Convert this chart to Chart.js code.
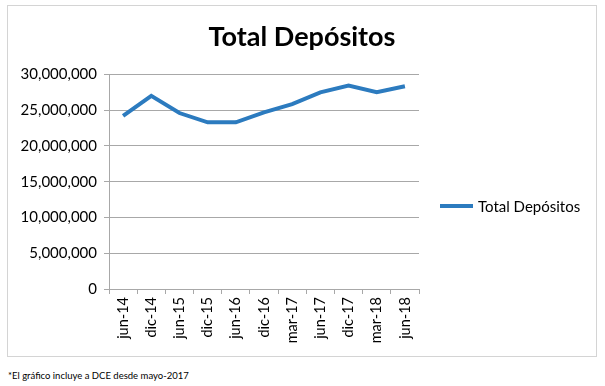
<!DOCTYPE html>
<html>
<head>
<meta charset="utf-8">
<script src="https://cdn.jsdelivr.net/npm/chart.js"></script>
<style>
body { margin: 0; width: 605px; height: 386px; background: #fff; font-family: Lato, sans-serif; position: relative; }
#box { position: absolute; left: 7px; top: 5px; width: 590px; height: 352px; border: 1px solid #d4d4d4; box-sizing: border-box; }
#wrap { position: relative; width: 588px; height: 350px; }
#legend { position: absolute; left: 440px; top: 197px; font-size: 15px; color: #000; display: flex; align-items: center; }
#legend .swatch { display: inline-block; width: 33px; height: 4px; background: #2c7bbf; margin-right: 5px; }
#note { position: absolute; left: 8px; top: 370px; font-size: 9.5px; color: #000; }
</style>
</head>
<body>
<div id="box"><div id="wrap"><canvas id="depChart"></canvas></div></div>
<div id="legend"><span class="swatch"></span>Total Depósitos</div>
<div id="note">*El gráfico incluye a DCE desde mayo-2017</div>
<script>
// data
var months = ['jun-14', 'dic-14', 'jun-15', 'dic-15', 'jun-16', 'dic-16', 'mar-17', 'jun-17', 'dic-17', 'mar-18', 'jun-18'];
var depositos = [24200000, 27000000, 24600000, 23300000, 23300000, 24700000, 25850000, 27500000, 28450000, 27500000, 28350000];
var yMin = 0, yMax = 30000000, yStep = 5000000;

var gridGray = '#a8a8a8';
var blue = '#2c7bbf';

var ctx = document.getElementById('depChart').getContext('2d');
var chart = new Chart(ctx, {
    type: 'line',
    data: {
        labels: months,
        datasets: [{
            label: 'Total Depósitos',
            data: depositos,
            borderColor: blue,
            backgroundColor: blue,
            borderWidth: 4,
            pointRadius: 0,
            tension: 0,
            fill: false
        }]
    },
    options: {
        responsive: true,
        maintainAspectRatio: false,
        animation: false,
        layout: { padding: { left: 0, right: 0, top: 0, bottom: 8 } },
        plugins: {
            legend: { display: false },
            tooltip: { enabled: false },
            title: {
                display: true,
                text: 'Total Depósitos',
                color: '#000',
                font: { family: 'Lato', size: 27, weight: 'bold' },
                padding: { top: 15, bottom: 21 }
            }
        },
        scales: {
            x: {
                offset: true,
                grid: { offset: true, drawOnChartArea: false, tickLength: 5, color: gridGray },
                border: { color: gridGray },
                ticks: {
                    minRotation: 90, maxRotation: 90, autoSkip: false, padding: 3,
                    color: '#000', font: { family: 'Lato', size: 14.5 }
                },
                afterFit: function (s) { s.height = 59; }
            },
            y: {
                min: yMin,
                max: yMax,
                grid: { color: gridGray, tickLength: 5 },
                border: { color: gridGray },
                ticks: {
                    stepSize: yStep, padding: 7, color: '#000',
                    font: { family: 'Lato', size: 15 },
                    callback: function (v) { return v.toLocaleString('en-US'); }
                },
                afterFit: function (s) { s.width = 101; }
            },
            // empty right-hand space where the legend sits
            legendSpace: {
                type: 'linear',
                position: 'right',
                grid: { display: false },
                border: { display: false },
                ticks: { display: false },
                afterFit: function (s) { s.width = 177; }
            }
        }
    }
});
</script>
</body>
</html>
